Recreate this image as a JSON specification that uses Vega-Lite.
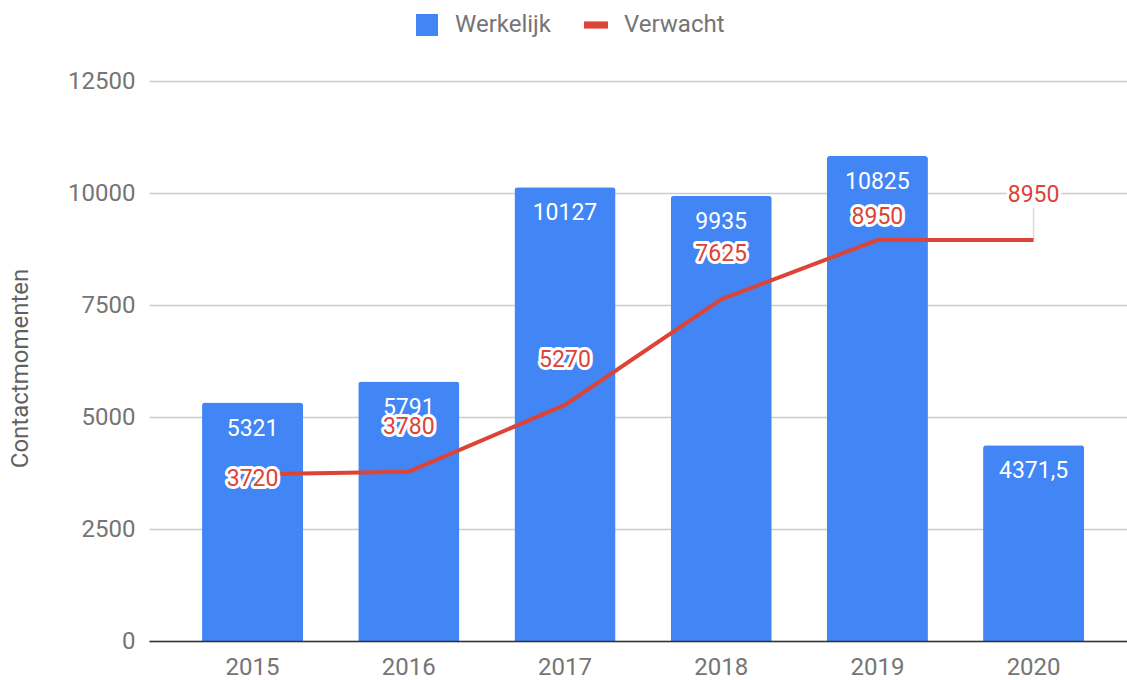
{
  "$schema": "https://vega.github.io/schema/vega-lite/v6.json",
  "width": 978,
  "height": 560,
  "autosize": {"type": "none"},
  "padding": {"left": 149, "top": 81, "right": 0, "bottom": 39},
  "background": "white",
  "config": {
    "font": "Roboto",
    "view": {"stroke": null},
    "axis": {
      "labelFont": "Roboto",
      "labelFontSize": 24,
      "labelColor": "#757575",
      "ticks": false,
      "domain": false,
      "gridColor": "#cccccc",
      "gridWidth": 1.5,
      "titleFont": "Roboto",
      "titleFontWeight": "normal",
      "titleFontSize": 24,
      "titleColor": "#616161"
    },
    "legend": {
      "labelFont": "Roboto",
      "labelFontSize": 24,
      "labelColor": "#757575",
      "symbolSize": 484,
      "labelOffset": 16,
      "columnPadding": 32,
      "padding": 0
    }
  },
  "data": {
    "values": [
      {"year": "2015", "werkelijk": 5321, "label": "5321", "verwacht": 3720},
      {"year": "2016", "werkelijk": 5791, "label": "5791", "verwacht": 3780},
      {"year": "2017", "werkelijk": 10127, "label": "10127", "verwacht": 5270},
      {"year": "2018", "werkelijk": 9935, "label": "9935", "verwacht": 7625},
      {"year": "2019", "werkelijk": 10825, "label": "10825", "verwacht": 8950},
      {"year": "2020", "werkelijk": 4371.5, "label": "4371,5", "verwacht": 8950}
    ]
  },
  "encoding": {
    "x": {
      "field": "year",
      "type": "ordinal",
      "scale": {"type": "band", "paddingInner": 0.353, "paddingOuter": 0.307, "align": 0.553},
      "axis": {
        "title": null,
        "labelAngle": 0,
        "domain": true,
        "domainColor": "#333333",
        "domainWidth": 1.5,
        "labelPadding": 14,
        "grid": false,
        "zindex": 1
      }
    }
  },
  "layer": [
    {
      "mark": {"type": "bar", "cornerRadiusTopLeft": 3, "cornerRadiusTopRight": 3},
      "encoding": {
        "y": {
          "field": "werkelijk",
          "type": "quantitative",
          "scale": {"domain": [0, 12500], "nice": false},
          "axis": {
            "title": "Contactmomenten",
            "values": [0, 2500, 5000, 7500, 10000, 12500],
            "format": "d",
            "grid": true,
            "labelPadding": 14,
            "titleX": -129,
            "titleY": 287,
            "titleBaseline": "middle",
            "titleAngle": -90
          }
        },
        "color": {
          "datum": "Werkelijk",
          "type": "nominal",
          "scale": {"domain": ["Werkelijk", "Verwacht"], "range": ["#4285F4", "#DB4437"]},
          "legend": {
            "title": null,
            "orient": "none",
            "direction": "horizontal",
            "legendX": 266,
            "legendY": -68,
            "encode": {
              "symbols": {
                "update": {
                  "shape": {"signal": "datum.value === 'Verwacht' ? 'M-1,-0.3H1V0.3H-1Z' : 'square'"},
                  "size": {"signal": "datum.value === 'Verwacht' ? 576 : 484"},
                  "fill": {"scale": "color", "field": "value"},
                  "stroke": {"value": "transparent"},
                  "strokeWidth": {"value": 0},
                  "opacity": {"value": 1}
                }
              }
            }
          }
        }
      }
    },
    {
      "mark": {"type": "text", "color": "white", "fontSize": 23, "baseline": "middle", "dy": 26},
      "encoding": {
        "y": {"field": "werkelijk", "type": "quantitative"},
        "text": {"field": "label"}
      }
    },
    {
      "transform": [{"filter": "datum.year == '2020'"}],
      "mark": {"type": "rule", "color": "#d9d9d9", "strokeWidth": 1.5, "y2Offset": -32},
      "encoding": {
        "y": {"field": "verwacht", "type": "quantitative"},
        "y2": {"field": "verwacht"}
      }
    },
    {
      "mark": {"type": "line", "strokeWidth": 4},
      "encoding": {
        "y": {"field": "verwacht", "type": "quantitative"},
        "color": {"datum": "Verwacht", "type": "nominal"}
      }
    },
    {
      "transform": [{"filter": "datum.year == '2015'"}],
      "encoding": {
        "y": {"field": "verwacht", "type": "quantitative"},
        "text": {"field": "verwacht", "type": "quantitative", "format": "d"}
      },
      "layer": [
        {"mark": {"type": "text", "fontSize": 23, "baseline": "middle", "dy": 5, "fill": "white", "stroke": "white", "strokeWidth": 6, "strokeJoin": "round"}},
        {"mark": {"type": "text", "fontSize": 23, "baseline": "middle", "dy": 5, "fill": "#DB4437"}}
      ]
    },
    {
      "transform": [{"filter": "datum.year != '2015' && datum.year != '2019'"}],
      "encoding": {
        "y": {"field": "verwacht", "type": "quantitative"},
        "text": {"field": "verwacht", "type": "quantitative", "format": "d"}
      },
      "layer": [
        {"mark": {"type": "text", "fontSize": 23, "baseline": "middle", "dy": -45, "fill": "white", "stroke": "white", "strokeWidth": 6, "strokeJoin": "round"}},
        {"mark": {"type": "text", "fontSize": 23, "baseline": "middle", "dy": -45, "fill": "#DB4437"}}
      ]
    },
    {
      "transform": [{"filter": "datum.year == '2019'"}],
      "encoding": {
        "y": {"field": "verwacht", "type": "quantitative"},
        "text": {"field": "verwacht", "type": "quantitative", "format": "d"}
      },
      "layer": [
        {"mark": {"type": "text", "fontSize": 23, "baseline": "middle", "dy": -23, "fill": "white", "stroke": "white", "strokeWidth": 6, "strokeJoin": "round"}},
        {"mark": {"type": "text", "fontSize": 23, "baseline": "middle", "dy": -23, "fill": "#DB4437"}}
      ]
    }
  ]
}
